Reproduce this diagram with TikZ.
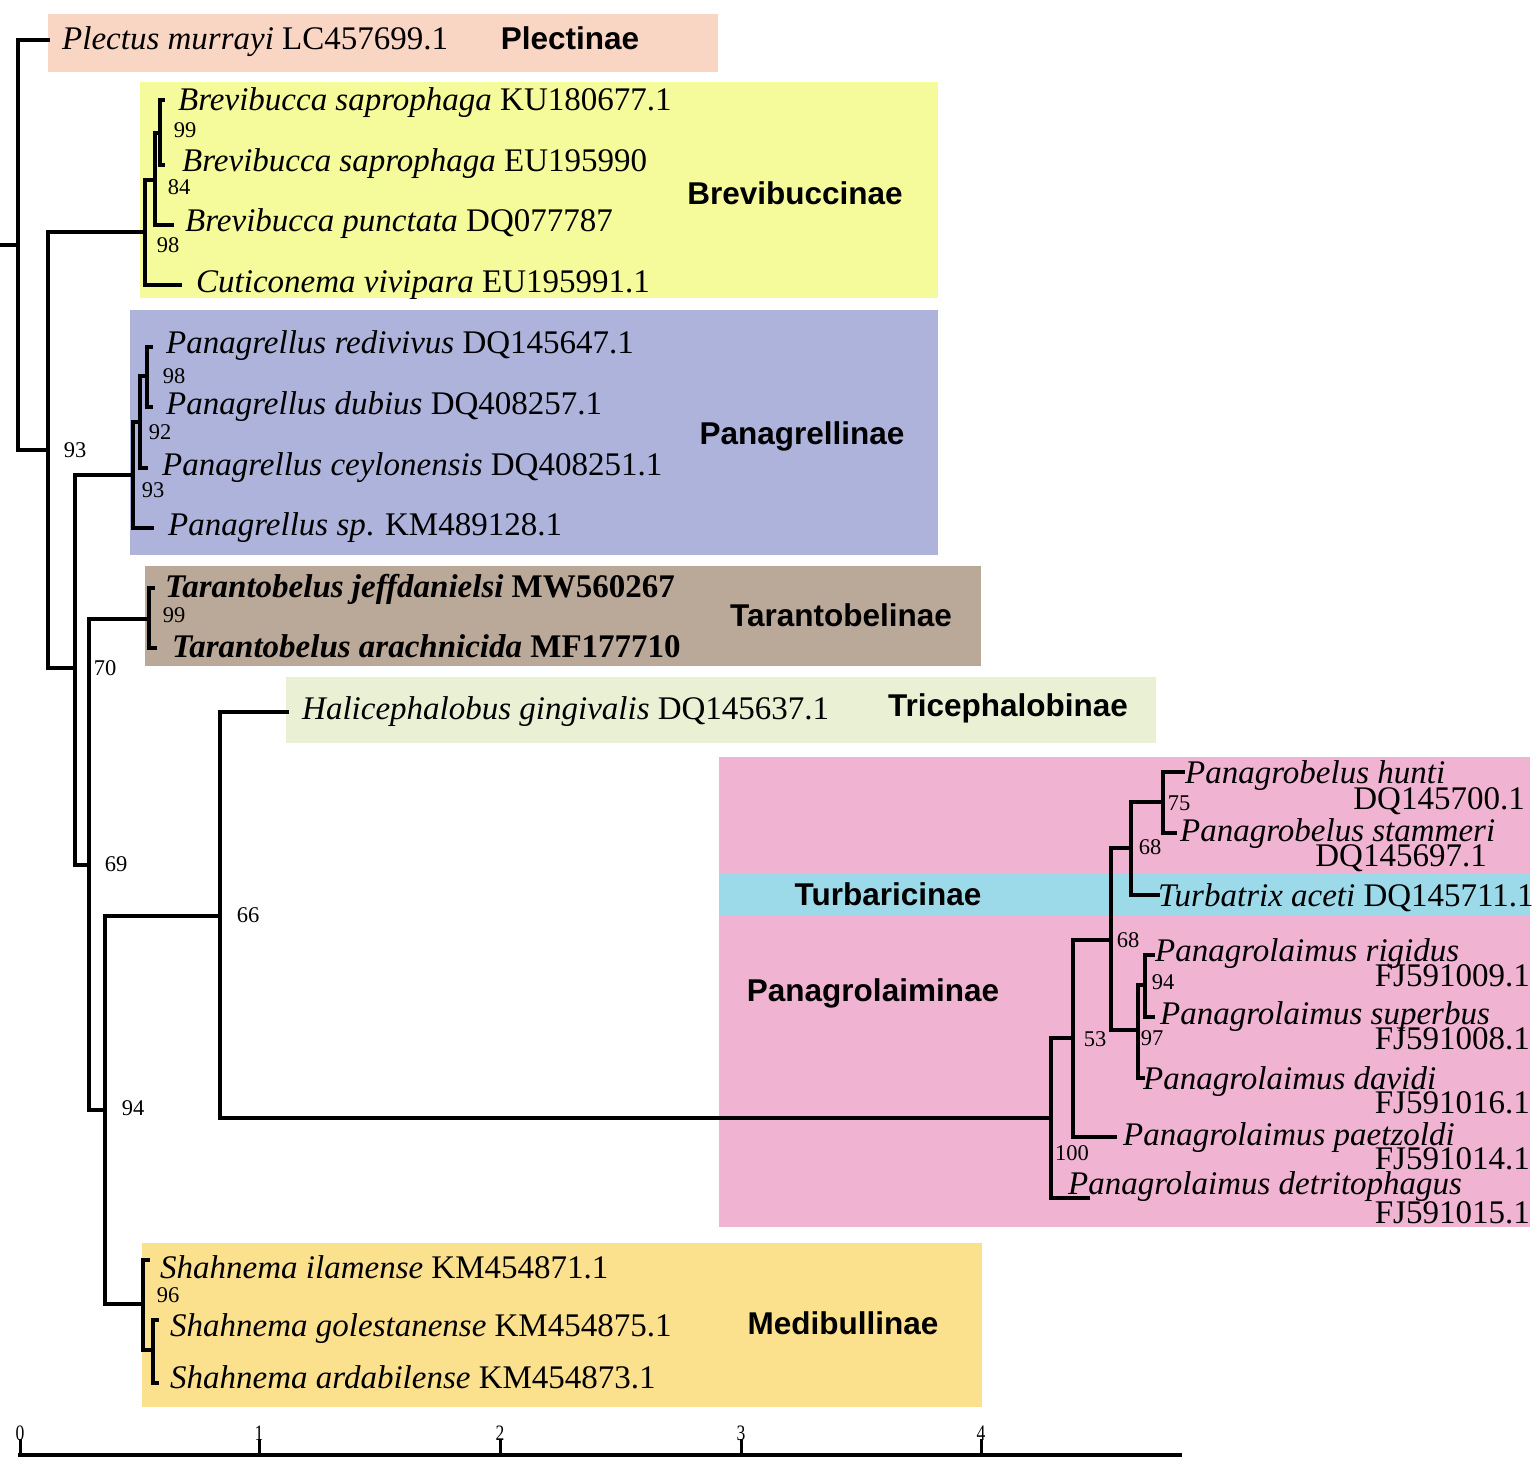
\documentclass[tikz,border=0pt]{standalone}
\usepackage{fontspec}
\setmainfont{Liberation Serif}
\newfontfamily\subfam{Liberation Sans}
\definecolor{cPle}{HTML}{F9D5C4}
\definecolor{cBre}{HTML}{F5FA9B}
\definecolor{cPgr}{HTML}{ADB3DA}
\definecolor{cTar}{HTML}{BAA898}
\definecolor{cTri}{HTML}{E9F0D4}
\definecolor{cPgl}{HTML}{F0B4D2}
\definecolor{cTur}{HTML}{9CD9E9}
\definecolor{cMed}{HTML}{FBE08E}
\tikzset{
  br/.style={line width=3.5pt, line cap=rect, line join=miter},
  taxon/.style={anchor=base west, inner sep=0pt, font=\fontsize{33}{36}\selectfont},
  acc/.style={anchor=base east, inner sep=0pt, font=\fontsize{33}{36}\selectfont},
  boot/.style={inner sep=0pt, font=\fontsize{22.5}{24}\selectfont},
  subf/.style={inner sep=0pt, font=\subfam\bfseries\fontsize{31.5}{34}\selectfont},
  scl/.style={inner sep=0pt, xscale=0.8, font=\fontsize{22}{24}\selectfont},
}
\begin{document}
\begin{tikzpicture}[x=1pt,y=-1pt]
\useasboundingbox (0,0) rectangle (1540,1473);
% clade boxes
\fill[cPle] (48,14) rectangle (718,72);
\fill[cBre] (140,82) rectangle (938,298);
\fill[cPgr] (130,310) rectangle (938,555);
\fill[cTar] (145,566) rectangle (981,666);
\fill[cTri] (286,677) rectangle (1156,743);
\fill[cPgl] (719,757) rectangle (1530,1227);
\fill[cTur] (719,873) rectangle (1530,916);
\fill[cMed] (142,1243) rectangle (982,1407);

% internal nodes
\coordinate (rs) at (0,245);
\coordinate (r0) at (18,245);
\coordinate (A) at (48,450);
\coordinate (B) at (145,232);
\coordinate (B1) at (155,180);
\coordinate (B2) at (160,133);
\coordinate (C) at (75,668);
\coordinate (D) at (133,475);
\coordinate (D1) at (140,422);
\coordinate (D2) at (147,376);
\coordinate (E) at (89,865);
\coordinate (T) at (149,619);
\coordinate (F) at (105,1110);
\coordinate (G) at (220,916);
\coordinate (H) at (1051,1118);
\coordinate (I) at (1073,1038);
\coordinate (J) at (1111,940);
\coordinate (K) at (1131,848);
\coordinate (L) at (1138,1030);
\coordinate (M) at (1163,802);
\coordinate (N) at (1145,985);
\coordinate (Md) at (143,1304);
\coordinate (Md2) at (153,1350);
% tips
\coordinate (tPle) at (48,40);
\coordinate (tKU) at (163,100);
\coordinate (tEU) at (163,165);
\coordinate (tPun) at (172,225);
\coordinate (tCut) at (180,285);
\coordinate (tRed) at (151,347);
\coordinate (tDub) at (151,407);
\coordinate (tCey) at (146,468);
\coordinate (tSp) at (152,528);
\coordinate (tJef) at (153,588);
\coordinate (tAra) at (155,648);
\coordinate (tHal) at (287,712);
\coordinate (tHun) at (1183,772);
\coordinate (tSta) at (1175,833);
\coordinate (tTur) at (1158,895);
\coordinate (tRig) at (1153,955);
\coordinate (tSup) at (1153,1017);
\coordinate (tDav) at (1143,1078);
\coordinate (tPae) at (1115,1137);
\coordinate (tDet) at (1088,1198);
\coordinate (tIla) at (148,1260);
\coordinate (tGol) at (157,1320);
\coordinate (tArd) at (157,1383);

% branches
\draw[br] (rs) -- (r0);
\draw[br] (r0) |- (tPle);
\draw[br] (r0) |- (A);
\draw[br] (A) |- (B);
\draw[br] (A) |- (C);
\draw[br] (B) |- (B1);
\draw[br] (B) |- (tCut);
\draw[br] (B1) |- (B2);
\draw[br] (B1) |- (tPun);
\draw[br] (B2) |- (tKU);
\draw[br] (B2) |- (tEU);
\draw[br] (C) |- (D);
\draw[br] (C) |- (E);
\draw[br] (D) |- (D1);
\draw[br] (D) |- (tSp);
\draw[br] (D1) |- (D2);
\draw[br] (D1) |- (tCey);
\draw[br] (D2) |- (tRed);
\draw[br] (D2) |- (tDub);
\draw[br] (E) |- (T);
\draw[br] (E) |- (F);
\draw[br] (T) |- (tJef);
\draw[br] (T) |- (tAra);
\draw[br] (F) |- (G);
\draw[br] (F) |- (Md);
\draw[br] (G) |- (tHal);
\draw[br] (G) |- (H);
\draw[br] (H) |- (I);
\draw[br] (H) |- (tDet);
\draw[br] (I) |- (J);
\draw[br] (I) |- (tPae);
\draw[br] (J) |- (K);
\draw[br] (J) |- (L);
\draw[br] (K) |- (M);
\draw[br] (K) |- (tTur);
\draw[br] (M) |- (tHun);
\draw[br] (M) |- (tSta);
\draw[br] (L) |- (N);
\draw[br] (L) |- (tDav);
\draw[br] (N) |- (tRig);
\draw[br] (N) |- (tSup);
\draw[br] (Md) |- (tIla);
\draw[br] (Md) |- (Md2);
\draw[br] (Md2) |- (tGol);
\draw[br] (Md2) |- (tArd);

% taxon labels
\node[taxon] (lPle) at (62,49) {\textit{Plectus murrayi} LC457699.1};
\node[taxon] (lKU) at (178,110) {\textit{Brevibucca saprophaga} KU180677.1};
\node[taxon] (lEU) at (182,171) {\textit{Brevibucca saprophaga} EU195990};
\node[taxon] (lPun) at (185,231) {\textit{Brevibucca punctata} DQ077787};
\node[taxon] (lCut) at (196,292) {\textit{Cuticonema vivipara} EU195991.1};
\node[taxon] (lRed) at (166,353) {\textit{Panagrellus redivivus} DQ145647.1};
\node[taxon] (lDub) at (166,414) {\textit{Panagrellus dubius} DQ408257.1};
\node[taxon] (lCey) at (162,475) {\textit{Panagrellus ceylonensis} DQ408251.1};
\node[taxon] (lSp) at (168,535) {\textit{Panagrellus sp}. KM489128.1};
\node[taxon] (lJef) at (165,597) {\bfseries\textit{Tarantobelus jeffdanielsi} MW560267};
\node[taxon] (lAra) at (172,657) {\bfseries\textit{Tarantobelus arachnicida} MF177710};
\node[taxon] (lHal) at (302,719) {\textit{Halicephalobus gingivalis} DQ145637.1};
\node[taxon] (lHun) at (1185,783) {\textit{Panagrobelus hunti}};
\node[acc] (aHun) at (1525,809) {DQ145700.1};
\node[taxon] (lSta) at (1180,841) {\textit{Panagrobelus stammeri}};
\node[acc] (aSta) at (1487,866) {DQ145697.1};
\node[taxon] (lTur) at (1158,906) {\textit{Turbatrix aceti} DQ145711.1};
\node[taxon] (lRig) at (1155,961) {\textit{Panagrolaimus rigidus}};
\node[acc] (aRig) at (1530,986) {FJ591009.1};
\node[taxon] (lSup) at (1160,1024) {\textit{Panagrolaimus superbus}};
\node[acc] (aSup) at (1530,1049) {FJ591008.1};
\node[taxon] (lDav) at (1143,1089) {\textit{Panagrolaimus davidi}};
\node[acc] (aDav) at (1530,1113) {FJ591016.1};
\node[taxon] (lPae) at (1123,1145) {\textit{Panagrolaimus paetzoldi}};
\node[acc] (aPae) at (1530,1169) {FJ591014.1};
\node[taxon] (lDet) at (1068,1194) {\textit{Panagrolaimus detritophagus}};
\node[acc] (aDet) at (1530,1223) {FJ591015.1};
\node[taxon] (lIla) at (160,1278) {\textit{Shahnema ilamense} KM454871.1};
\node[taxon] (lGol) at (170,1336) {\textit{Shahnema golestanense} KM454875.1};
\node[taxon] (lArd) at (170,1388) {\textit{Shahnema ardabilense} KM454873.1};

% subfamily labels
\node[subf] (sPle) at (570,38) {Plectinae};
\node[subf] (sBre) at (795,193) {Brevibuccinae};
\node[subf] (sPgr) at (802,436) {Panagrellinae};
\node[subf] (sTar) at (841,615) {Tarantobelinae};
\node[subf] (sTri) at (1008,708) {Tricephalobinae};
\node[subf] (sTur) at (888,894) {Turbaricinae};
\node[subf] (sPgl) at (873,993) {Panagrolaiminae};
\node[subf] (sMed) at (843,1323) {Medibullinae};

% bootstrap values
\node[boot] (b1) at (185,130) {99};
\node[boot] (b2) at (179,187) {84};
\node[boot] (b3) at (168,245) {98};
\node[boot] (b4) at (75,450) {93};
\node[boot] (b5) at (174,376) {98};
\node[boot] (b6) at (160,432) {92};
\node[boot] (b7) at (153,490) {93};
\node[boot] (b8) at (174,615) {99};
\node[boot] (b9) at (105,668) {70};
\node[boot] (b10) at (116,864) {69};
\node[boot] (b11) at (248,915) {66};
\node[boot] (b12) at (133,1108) {94};
\node[boot] (b13) at (168,1295) {96};
\node[boot] (b14) at (1179,803) {75};
\node[boot] (b15) at (1150,847) {68};
\node[boot] (b16) at (1128,940) {68};
\node[boot] (b17) at (1163,982) {94};
\node[boot] (b18) at (1095,1039) {53};
\node[boot] (b19) at (1152,1038) {97};
\node[boot] (b20) at (1072,1153) {100};

% scale axis
\coordinate (ax0) at (18,1455);
\coordinate (ax1) at (1182,1455);
\draw[line width=4.5pt] (ax0) -- (ax1);
\foreach \xx/\lab in {20/0,259/1,500/2,741/3,981/4}{
  \draw[line width=3pt] (\xx,1456) -- (\xx,1439);
  \node[scl] (sc\lab) at (\xx,1433) {\lab};
}
\end{tikzpicture}
\end{document}
